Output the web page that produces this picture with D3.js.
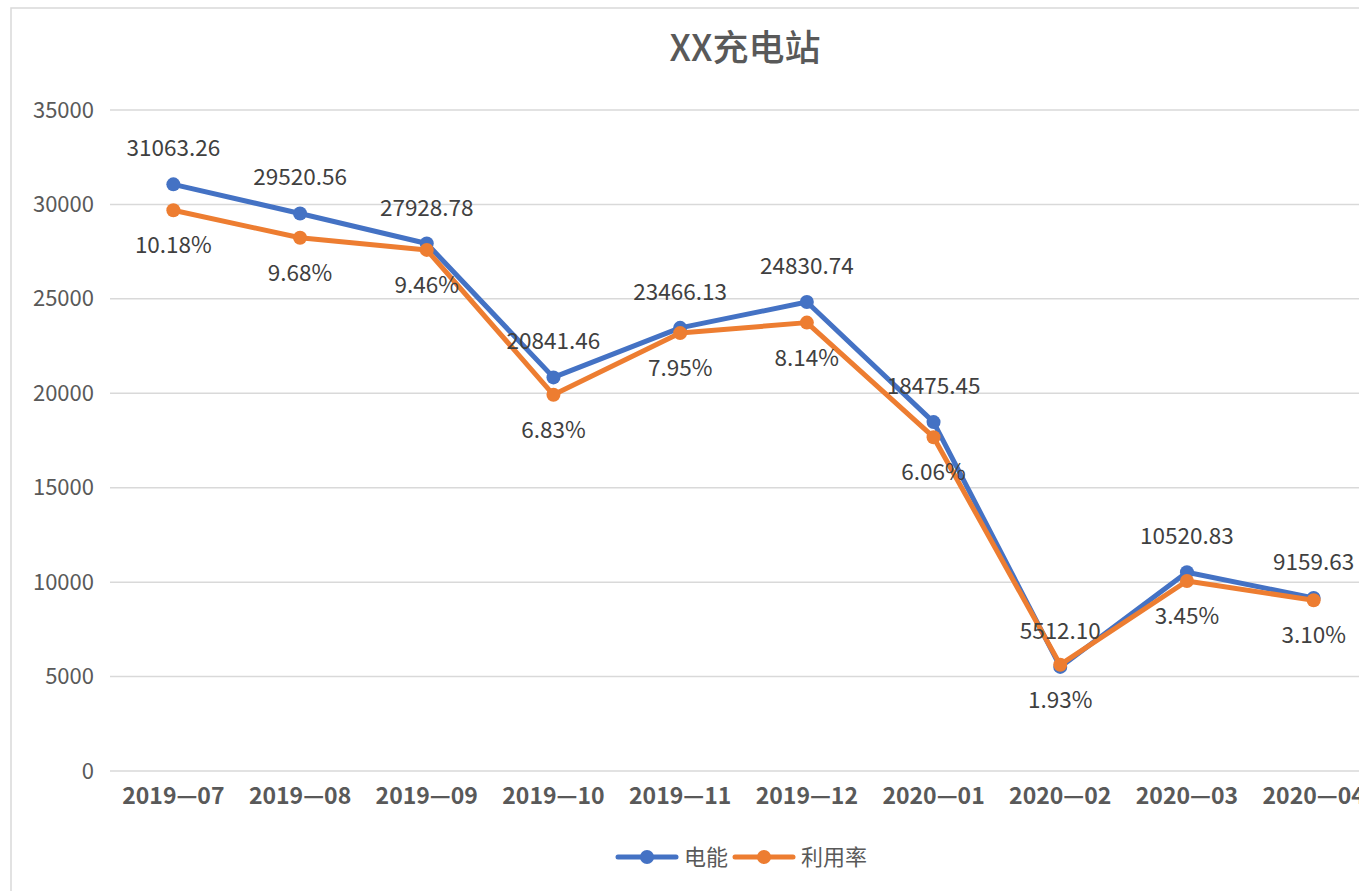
<!DOCTYPE html>
<html>
<head>
<meta charset="utf-8">
<script src="https://cdn.jsdelivr.net/npm/d3@7"></script>
<style>
  html, body { margin: 0; padding: 0; background: #fff; overflow: hidden; }
  text { font-family: "Noto Sans CJK SC", "Noto Sans", sans-serif; }
</style>
</head>
<body>
<div id="chart"></div>
<script>
const width = 1359;
const height = 891;

// data
const months = ["2019—07", "2019—08", "2019—09", "2019—10", "2019—11", "2019—12", "2020—01", "2020—02", "2020—03", "2020—04"];
const energy = [31063.26, 29520.56, 27928.78, 20841.46, 23466.13, 24830.74, 18475.45, 5512.10, 10520.83, 9159.63];
const usage = [10.18, 9.68, 9.46, 6.83, 7.95, 8.14, 6.06, 1.93, 3.45, 3.10];
const yTicks = [0, 5000, 10000, 15000, 20000, 25000, 30000, 35000];

const blue = "#4472C4";
const orange = "#ED7D31";

const svg = d3.select("#chart").append("svg")
    .attr("width", width)
    .attr("height", height);

// chart border (runs off the right and bottom edge)
svg.append("rect")
    .attr("x", 11).attr("y", 8)
    .attr("width", 1468).attr("height", 920)
    .attr("fill", "#fff")
    .attr("stroke", "#d9d9d9")
    .attr("stroke-width", 1.5);

// plot area
const plotLeft = 110, plotRight = 1377, plotTop = 110, plotBottom = 771;

const x = d3.scaleBand().domain(months).range([plotLeft, plotRight]);
const y = d3.scaleLinear().domain([0, 35000]).range([plotBottom, plotTop]);
// secondary axis (hidden), 0 - 12%
const y2 = d3.scaleLinear().domain([0, 12]).range([plotBottom, plotTop]);

const cx = d => x(d) + x.bandwidth() / 2;

// gridlines
svg.append("g")
    .selectAll("line")
    .data(yTicks)
    .enter().append("line")
    .attr("x1", plotLeft).attr("x2", plotRight)
    .attr("y1", d => y(d)).attr("y2", d => y(d))
    .attr("stroke", "#d9d9d9")
    .attr("stroke-width", 1.5);

// y axis labels
const yAxis = d3.axisLeft(y).tickValues(yTicks).tickFormat(d3.format("d")).tickSize(0).tickPadding(16);
svg.append("g")
    .attr("transform", `translate(${plotLeft},0)`)
    .call(yAxis)
    .call(g => g.select(".domain").remove())
    .selectAll("text")
    .attr("font-size", 22)
    .attr("fill", "#595959")
    .style("font-family", "'Noto Sans CJK SC', sans-serif");

// x axis labels
const xAxis = d3.axisBottom(x).tickSize(0).tickPadding(17);
svg.append("g")
    .attr("transform", `translate(0,${plotBottom})`)
    .call(xAxis)
    .call(g => g.select(".domain").remove())
    .selectAll("text")
    .attr("font-size", 23)
    .attr("font-weight", "bold")
    .attr("fill", "#595959")
    .style("font-family", "'Noto Sans CJK SC', sans-serif");

// title
svg.append("text")
    .attr("x", 745).attr("y", 61)
    .attr("text-anchor", "middle")
    .attr("font-size", 36)
    .attr("font-weight", 500)
    .attr("fill", "#595959")
    .text("XX充电站");

// lines
const energyLine = d3.line().x((d, i) => cx(months[i])).y(d => y(d));
const usageLine = d3.line().x((d, i) => cx(months[i])).y(d => y2(d));

svg.append("path")
    .datum(energy)
    .attr("d", energyLine)
    .attr("fill", "none")
    .attr("stroke", blue)
    .attr("stroke-width", 5)
    .attr("stroke-linejoin", "round");

svg.append("g")
    .selectAll("circle")
    .data(energy)
    .enter().append("circle")
    .attr("cx", (d, i) => cx(months[i]))
    .attr("cy", d => y(d))
    .attr("r", 7)
    .attr("fill", blue);

svg.append("path")
    .datum(usage)
    .attr("d", usageLine)
    .attr("fill", "none")
    .attr("stroke", orange)
    .attr("stroke-width", 5)
    .attr("stroke-linejoin", "round");

svg.append("g")
    .selectAll("circle")
    .data(usage)
    .enter().append("circle")
    .attr("cx", (d, i) => cx(months[i]))
    .attr("cy", d => y2(d))
    .attr("r", 7)
    .attr("fill", orange);

// data labels
svg.append("g")
    .selectAll("text")
    .data(energy)
    .enter().append("text")
    .attr("x", (d, i) => cx(months[i]))
    .attr("y", d => y(d) - 28)
    .attr("text-anchor", "middle")
    .attr("font-size", 22.5)
    .attr("fill", "#404040")
    .text(d => d.toFixed(2));

svg.append("g")
    .selectAll("text")
    .data(usage)
    .enter().append("text")
    .attr("x", (d, i) => cx(months[i]))
    .attr("y", d => y2(d) + 43)
    .attr("text-anchor", "middle")
    .attr("font-size", 22.5)
    .attr("fill", "#404040")
    .text(d => d.toFixed(2) + "%");

// legend
const legendItems = [
    {name: "电能", color: blue, x: 618},
    {name: "利用率", color: orange, x: 735}
];
const legend = svg.append("g").attr("transform", "translate(0,857)");
legendItems.forEach(item => {
    legend.append("line")
        .attr("x1", item.x).attr("x2", item.x + 58)
        .attr("y1", 0).attr("y2", 0)
        .attr("stroke", item.color)
        .attr("stroke-width", 5)
        .attr("stroke-linecap", "round");
    legend.append("circle")
        .attr("cx", item.x + 29).attr("cy", 0)
        .attr("r", 7)
        .attr("fill", item.color);
    legend.append("text")
        .attr("x", item.x + 66).attr("y", 8)
        .attr("font-size", 22)
        .attr("fill", "#595959")
        .text(item.name);
});
</script>
</body>
</html>
